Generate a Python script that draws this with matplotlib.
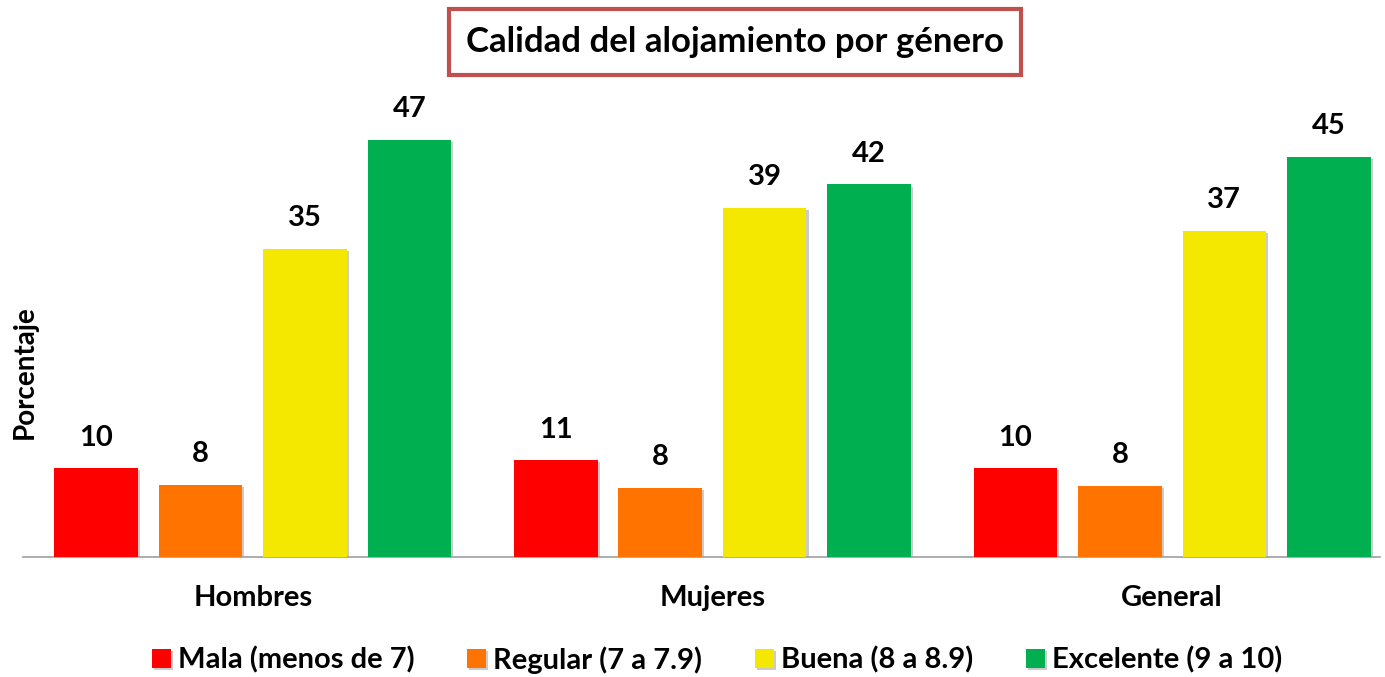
import matplotlib
matplotlib.use("Agg")
import matplotlib.pyplot as plt
import matplotlib.patheffects as pe
import numpy as np

plt.rcParams['font.family'] = ['Lato', 'DejaVu Sans']

groups = ["Hombres", "Mujeres", "General"]
series = ["Mala (menos de 7)", "Regular (7 a 7.9)", "Buena (8 a 8.9)", "Excelente (9 a 10)"]
mala = [10.0, 10.9, 10.0]
regular = [8.1, 7.8, 8.0]
buena = [34.7, 39.4, 36.8]
excelente = [47.0, 42.0, 45.1]
colors = ["#FF0000", "#FF7400", "#F5E800", "#00B050"]
title = "Calidad del alojamiento por género"
ylabel = "Porcentaje"

W, H = 1385, 677
fig = plt.figure(figsize=(W / 100, H / 100), dpi=100)
base_px = 557
top_px = 90
ax = fig.add_axes([23 / W, (H - base_px) / H, (1380 - 23) / W, (base_px - top_px) / H])

gstep = 4.4
offsets = [-1.5, -0.5, 0.5, 1.5]
centers = np.arange(len(groups)) * gstep
data = [mala, regular, buena, excelente]
handles = []
for k, (vals, col, name) in enumerate(zip(data, colors, series)):
    x = centers + offsets[k]
    bars = ax.bar(x, vals, width=0.8, color=col, label=name, zorder=3,
                  path_effects=[pe.SimplePatchShadow(offset=(1.5, -1.5), shadow_rgbFace='#999999', alpha=0.5), pe.Normal()])
    handles.append(bars)
    for xi, v in zip(x, vals):
        ax.text(xi, v + 2.0, f"{round(v):d}", ha='center', va='bottom',
                fontsize=21, fontweight='bold', color='black')

ax.set_xlim(-2.2, 2 * gstep + (1380 - 1172) / 104.5)
ax.set_ylim(0, (base_px - top_px) / 8.87)
for s in ['top', 'right', 'left']:
    ax.spines[s].set_visible(False)
ax.spines['bottom'].set_color('#A0A0A0')
ax.spines['bottom'].set_linewidth(1.2)
ax.set_yticks([])
ax.set_xticks(centers)
ax.set_xticklabels(groups, fontsize=21, fontweight='bold')
ax.tick_params(axis='x', length=0, pad=20)

fig.text(25 / W, 1 - 372 / H, ylabel, rotation=90, ha='center', va='center',
         fontsize=20, fontweight='bold')

fig.text(735 / W, 1 - 42 / H, title, ha='center', va='center', fontsize=25, fontweight='bold',
         bbox=dict(boxstyle='square,pad=0.5', facecolor='white', edgecolor='#C0504D', linewidth=3))

leg = fig.legend(handles=[h.patches[0] for h in handles], labels=series, loc='center',
                 bbox_to_anchor=(717 / W, 1 - 660 / H), ncol=4, frameon=False,
                 fontsize=21, handlelength=0.65, handleheight=0.65, handletextpad=0.25,
                 columnspacing=1.8)
for t in leg.get_texts():
    t.set_fontweight('bold')

fig.savefig("out.png", dpi=100)
